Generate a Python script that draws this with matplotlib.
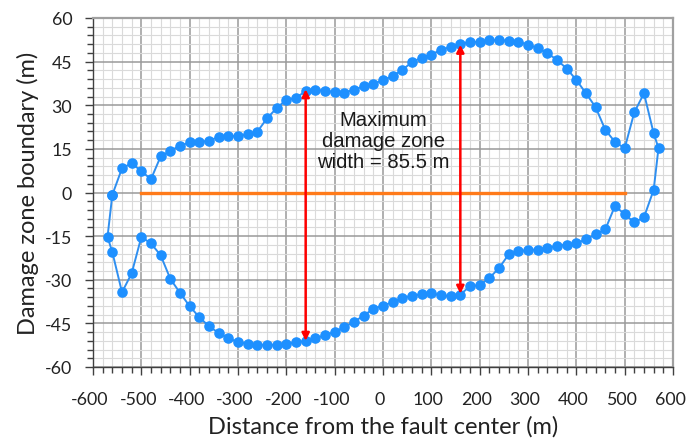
import matplotlib.pyplot as plt
import matplotlib.transforms as mtransforms
from matplotlib.ticker import MultipleLocator

plt.rcParams["font.family"] = ["Lato", "DejaVu Sans"]
plt.rcParams["axes.unicode_minus"] = False

# upper boundary, left to right (m)
upper_x = list(range(-560, 561, 20)) + [570]
upper_y = [-0.8, 8.3, 10.1, 7.3, 4.6, 12.4, 14.3, 16.1, 17.2, 17.4, 17.8, 19.1,
           19.4, 19.4, 20.0, 20.9, 25.5, 29.0, 31.9, 32.4, 35.0, 35.4, 34.9, 34.6,
           34.3, 35.4, 36.5, 37.3, 38.7, 40.0, 42.2, 44.8, 46.4, 47.4, 49.1, 50.0,
           51.1, 51.7, 51.8, 52.4, 52.4, 52.2, 51.9, 50.8, 49.7, 47.9, 45.6, 42.6,
           38.7, 34.1, 29.3, 21.5, 17.4, 15.2, 27.6, 34.1, 20.3, 15.3]

# lower boundary, right to left (m)
lower_x = list(range(560, -561, -20)) + [-570]
lower_y = [0.9, -8.5, -10.3, -7.5, -4.6, -12.7, -14.4, -16.1, -17.5, -17.9, -18.3,
           -19.2, -19.6, -19.8, -20.2, -21.3, -26.0, -29.4, -31.9, -32.2, -35.1,
           -35.7, -35.3, -34.7, -35.0, -35.5, -36.3, -37.7, -38.9, -40.0, -42.3,
           -44.5, -46.3, -47.9, -49.1, -50.1, -51.0, -51.5, -52.1, -52.4, -52.4,
           -52.4, -52.0, -51.4, -50.1, -48.3, -46.0, -42.9, -39.1, -34.5, -29.7,
           -21.6, -17.5, -15.3, -27.8, -34.3, -20.5, -15.3]

fault_x = [-500, 500]
fault_y = [0, 0]

# max width arrows: (x, bottom, top)
arrows = [(-160, -51.0, 35.5), (160, -34.8, 50.8)]

loop_x = upper_x + lower_x + [upper_x[0]]
loop_y = upper_y + lower_y + [upper_y[0]]

fig = plt.figure(figsize=(6.86, 4.39), dpi=100)
ax = fig.add_axes([93 / 686, 1 - 368 / 439, 580 / 686, 349 / 439])

ax.set_xlim(-600, 600)
ax.set_ylim(-60, 60)
ax.xaxis.set_major_locator(MultipleLocator(100))
ax.xaxis.set_minor_locator(MultipleLocator(20))
ax.yaxis.set_major_locator(MultipleLocator(15))
ax.yaxis.set_minor_locator(MultipleLocator(3))
ax.grid(which="major", color="#9a9a9a", lw=1.1)
ax.grid(which="minor", color="#dadada", lw=0.8)
ax.set_axisbelow(True)

ax.plot(fault_x, fault_y, color="#ff7a1a", lw=2.4, zorder=2)
ax.plot(loop_x, loop_y, color="#2f8ff0", lw=1.4, marker="o", ms=6.6,
        markerfacecolor="#1e90ff", markeredgecolor="#1e90ff", zorder=3)

for x, y0, y1 in arrows:
    ax.annotate("", xy=(x, y1), xytext=(x, y0),
                arrowprops=dict(arrowstyle="<|-|>", color="red", lw=1.8,
                                mutation_scale=11, shrinkA=0, shrinkB=0),
                zorder=4)

ax.text(0, 17.8, "Maximum\ndamage zone\nwidth = 85.5 m", ha="center", va="center",
        fontsize=14.6, family="Liberation Sans", linespacing=1.15, color="#1a1a1a")

for side in ["left", "bottom"]:
    ax.spines[side].set_color("#404040")
    ax.spines[side].set_linewidth(1.0)
for side in ["top", "right"]:
    ax.spines[side].set_color("#a0a0a0")
    ax.spines[side].set_linewidth(1.6)

ax.tick_params(which="major", direction="out", length=6, width=1, color="#404040",
               labelsize=12.8, labelcolor="#222222", pad=9)
ax.tick_params(axis="x", which="major", pad=11)
ax.tick_params(which="minor", direction="out", length=4.5, width=1, color="#404040")

# x tick labels sit a little left of their ticks
shift = mtransforms.ScaledTranslation(-3 / 100, 0, fig.dpi_scale_trans)
for lbl in ax.get_xticklabels():
    lbl.set_transform(lbl.get_transform() + shift)

ax.set_xlabel("Distance from the fault center (m)", fontsize=17, color="#222222",
              labelpad=6)
ax.set_ylabel("Damage zone boundary (m)", fontsize=17, color="#222222", labelpad=4)

fig.savefig("out.png", dpi=100)
